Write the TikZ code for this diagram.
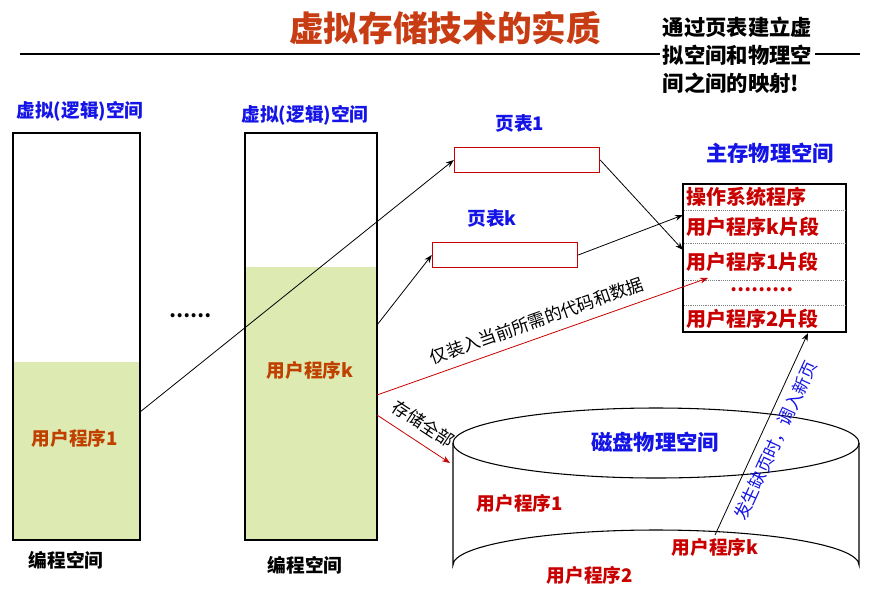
\documentclass[tikz,border=0pt]{standalone}
\usepackage{fontspec}
\setmainfont{Noto Sans CJK SC}
\usetikzlibrary{arrows.meta,positioning,calc}
\definecolor{titlered}{RGB}{200,60,20}
\definecolor{progred}{RGB}{200,0,0}
\definecolor{labelblue}{RGB}{20,20,230}
\definecolor{progfill}{RGB}{221,234,178}
\definecolor{orangered}{RGB}{192,64,0}

\begin{document}
\begin{tikzpicture}[
    x=0.75pt, y=-0.75pt,
    every node/.style={font=\bfseries\fontsize{14}{16}\selectfont},
    bluelabel/.style={text=labelblue},
    redlabel/.style={text=progred},
    tablebox/.style={draw=progred, thick, minimum width=109pt, minimum height=19pt, inner sep=0pt},
    memrow/.style={text=progred, anchor=west, inner sep=1pt, font=\bfseries\fontsize{15}{17}\selectfont},
    link/.style={-{Stealth[length=6pt]}, semithick},
    loadlink/.style={-{Stealth[length=6pt]}, semithick, draw=progred}
]
\useasboundingbox (0,0) rectangle (870,611);

% title
\node[text=titlered, font=\bfseries\fontsize{26}{30}\selectfont] (title) at (445,28) {虚拟存储技术的实质};
\draw[thick] (20,54) -- (860,54);
\node[align=left, anchor=north west, font=\bfseries\fontsize{16}{21}\selectfont, fill=white, inner sep=2pt] (note) at (660,14) {通过页表建立虚\\拟空间和物理空\\间之间的映射!};

% programming spaces
\node[bluelabel] (vlabel1) at (80,111) {虚拟(逻辑)空间};
\fill[progfill] (14,362) rectangle (139,539);
\draw[thick] (13,133) rectangle (140,540);
\node[text=orangered] (prog1) at (75,438) {用户程序1};
\node (code1) at (66,560) {编程空间};

\node (dots) at (190,316) {\dots\dots};

\node[bluelabel] (vlabel2) at (305,115) {虚拟(逻辑)空间};
\fill[progfill] (245,267) rectangle (377,540);
\draw[thick] (245,133) rectangle (377,540);
\node[text=orangered] (progk) at (310,370) {用户程序k};
\node (code2) at (305,565) {编程空间};

% page tables
\node[bluelabel] (pt1label) at (520,123) {页表1};
\node[tablebox] (pt1) at (527,160) {};
\node[bluelabel] (ptklabel) at (492,218) {页表k};
\node[tablebox] (ptk) at (505,255) {};

% main memory
\node[bluelabel, font=\bfseries\fontsize{16}{19}\selectfont] (memlabel) at (770,153) {主存物理空间};
\draw[thick] (683,184) rectangle (846,332);
\foreach \y in {210,243,280,305}
    \draw[densely dotted, gray] (684,\y) -- (845,\y);
\node[memrow] (os) at (685,197) {操作系统程序};
\node[memrow] (segk) at (685,227) {用户程序k片段};
\node[memrow] (seg1) at (685,262) {用户程序1片段};
\node[text=progred] (segdots) at (762,290) {\dots\dots\dots};
\node[memrow] (seg2) at (685,319) {用户程序2片段};

% disk
\draw[thick, fill=white] (453,443) -- (453,565) arc[start angle=180, end angle=360, x radius=203, y radius=35] -- (859,443);
\draw[thick] (656,443) ellipse[x radius=203, y radius=35];
\node[bluelabel, font=\bfseries\fontsize{16}{19}\selectfont] (disklabel) at (655,442) {磁盘物理空间};
\node[redlabel] (d1) at (520,503) {用户程序1};
\node[redlabel] (d2) at (590,575) {用户程序2};
\node[redlabel] (dk) at (715,547) {用户程序k};

% mappings
\coordinate (p1out) at (140,412);
\coordinate (pkout) at (377,325);
\coordinate (loadout) at (377,395);
\coordinate (storeout) at (377,415);
\coordinate (storein) at (450,463);
\coordinate (loadin) at (708,278);
\coordinate (seg1in) at (683,250);
\coordinate (segkin) at (683,215);
\coordinate (memin) at (808,333);
\coordinate (dkout) at (715,535);
\draw[link] (p1out) -- (pt1.west);
\draw[link] (pt1.east) -- (seg1in);
\draw[link] (pkout) -- (ptk.west);
\draw[link] (ptk.east) -- (segkin);
\draw[loadlink] (loadout) -- node[sloped, above=3pt, font=\fontsize{13}{15}\selectfont] {仅装入当前所需的代码和数据} (loadin);
\draw[loadlink] (storeout) -- node[sloped, above=4pt, font=\fontsize{13}{15}\selectfont] {存储全部} (storein);
\draw[link] (dkout) -- node[pos=0.5, sloped, below=2pt, text=labelblue, font=\fontsize{13}{15}\selectfont] {发生缺页时，调入新页} (memin);
\end{tikzpicture}
\end{document}
